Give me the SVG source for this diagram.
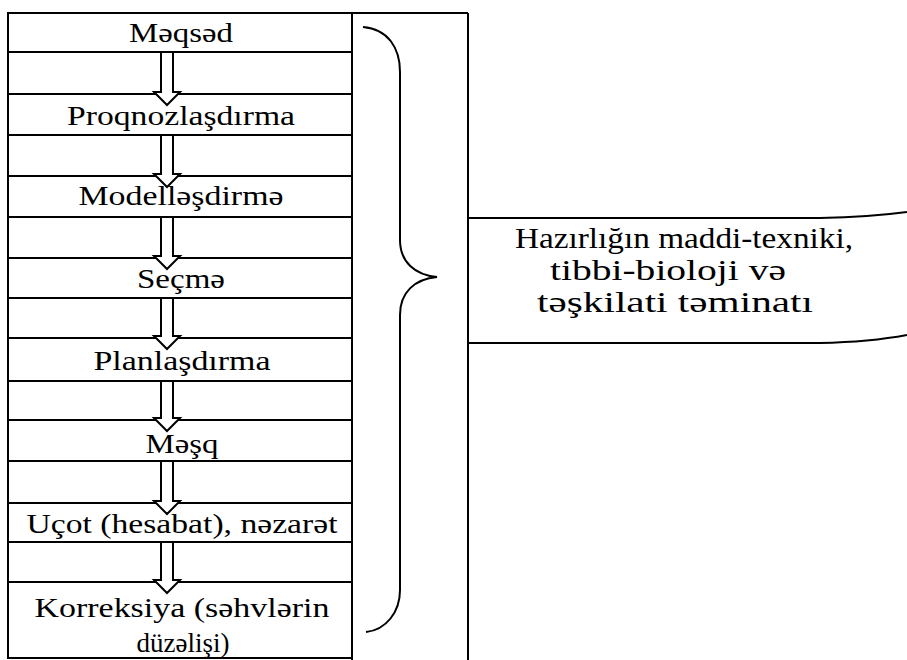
<svg xmlns="http://www.w3.org/2000/svg" width="907" height="660" viewBox="0 0 907 660">
<style>
.ln{fill:none;stroke:#000;stroke-width:2}
.box{fill:#fff;stroke:#000;stroke-width:2}
.arr{fill:#fff;stroke:#000;stroke-width:2;stroke-linejoin:miter}
.t{font-family:"Liberation Serif","Times New Roman",serif;font-size:27px;fill:#000;text-anchor:middle}
.r{font-family:"Liberation Serif","Times New Roman",serif;font-size:30px;fill:#000;text-anchor:middle}
</style>
<rect width="907" height="660" fill="#fff"/>
<g id="frame">
<path class="ln" d="M8 13 L468 13 M8 13 L8 658 M352 13 L352 660 M468 13 L468 660"/>
</g>
<g id="n1"><rect class="box" x="8" y="13" width="344" height="39"/><text class="t" x="181" y="42" textLength="104" lengthAdjust="spacingAndGlyphs">Məqsəd</text></g>
<g id="n2"><rect class="box" x="8" y="94" width="344" height="41"/><text class="t" x="181" y="125" textLength="228" lengthAdjust="spacingAndGlyphs">Proqnozlaşdırma</text></g>
<g id="n3"><rect class="box" x="8" y="176" width="344" height="41"/><text class="t" x="181" y="205" textLength="205" lengthAdjust="spacingAndGlyphs">Modelləşdirmə</text></g>
<g id="n4"><rect class="box" x="8" y="258" width="344" height="40"/><text class="t" x="181" y="288" textLength="88" lengthAdjust="spacingAndGlyphs">Seçmə</text></g>
<g id="n5"><rect class="box" x="8" y="338" width="344" height="43"/><text class="t" x="182" y="370" textLength="177" lengthAdjust="spacingAndGlyphs">Planlaşdırma</text></g>
<g id="n6"><rect class="box" x="8" y="420" width="344" height="41"/><text class="t" x="182" y="453" textLength="73" lengthAdjust="spacingAndGlyphs">Məşq</text></g>
<g id="n7"><rect class="box" x="8" y="503" width="344" height="39"/><text class="t" x="182" y="533" textLength="311" lengthAdjust="spacingAndGlyphs">Uçot (hesabat), nəzarət</text></g>
<g id="n8"><rect class="box" x="8" y="582" width="344" height="76"/><text class="t" x="182" y="617" textLength="295" lengthAdjust="spacingAndGlyphs">Korreksiya (səhvlərin</text><text class="t" x="183" y="652" textLength="93" lengthAdjust="spacingAndGlyphs">düzəlişi)</text></g>
<g id="connectors">
<polygon class="arr" points="161,52 173,52 173,92 180,92 167,105 154,92 161,92"/>
<polygon class="arr" points="161,135 173,135 173,174 180,174 167,187 154,174 161,174"/>
<polygon class="arr" points="161,217 173,217 173,256 180,256 167,269 154,256 161,256"/>
<polygon class="arr" points="161,298 173,298 173,336 180,336 167,349 154,336 161,336"/>
<polygon class="arr" points="161,381 173,381 173,418 180,418 167,431 154,418 161,418"/>
<polygon class="arr" points="161,461 173,461 173,501 180,501 167,514 154,501 161,501"/>
<polygon class="arr" points="161,542 173,542 173,580 180,580 167,593 154,580 161,580"/>
<path id="brace" class="ln" stroke-width="2.5" d="M363 27 C388 29 400 48 400 72 L400 240 C400 262 415 275 437 277 C415 279 400 292 400 315 L400 590 C400 612 386 630 366 632"/>
</g>
<g id="n9">
<path class="ln" d="M468 218 L820 218 Q870 217 907 212 M468 343 L820 343 Q870 342 907 335"/>
<text class="r" x="684" y="248" textLength="338" lengthAdjust="spacingAndGlyphs">Hazırlığın maddi-texniki,</text>
<text class="r" x="668" y="280" textLength="236" lengthAdjust="spacingAndGlyphs">tibbi-bioloji və</text>
<text class="r" x="675" y="312" textLength="276" lengthAdjust="spacingAndGlyphs">təşkilati təminatı</text>
</g>
</svg>
